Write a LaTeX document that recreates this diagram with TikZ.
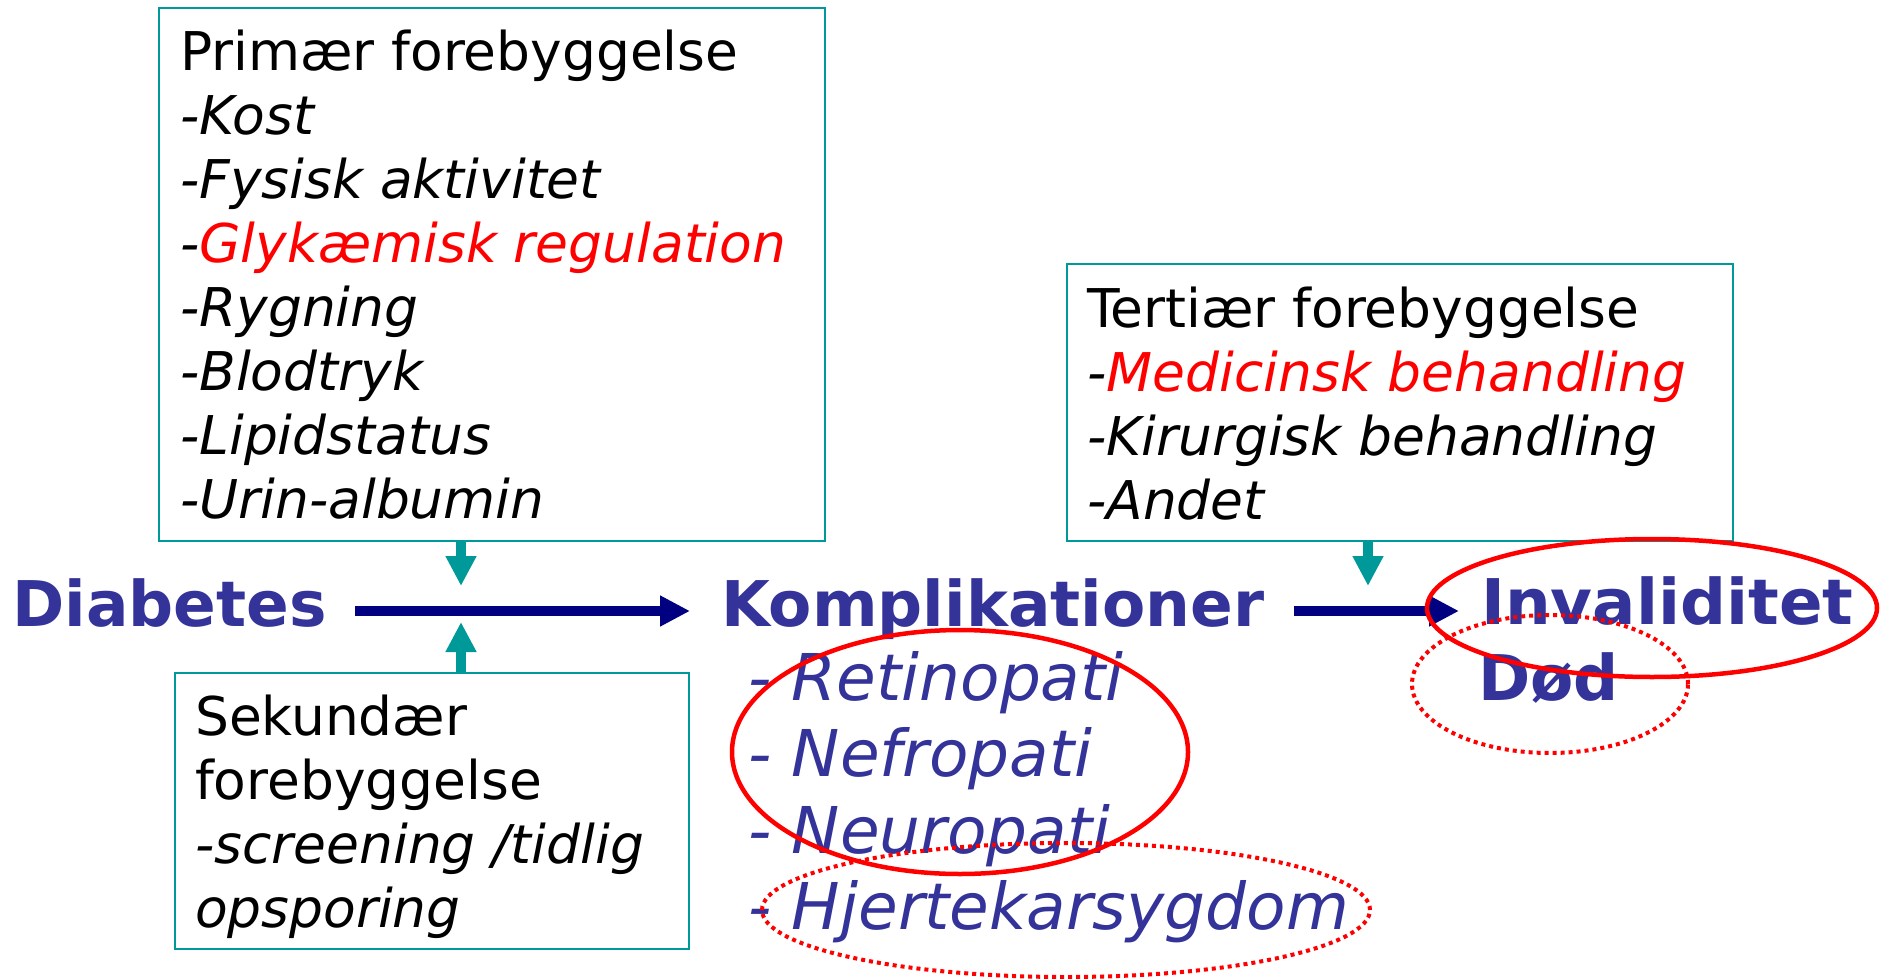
\documentclass[tikz,border=0pt]{standalone}
\usepackage{fontspec}
\setmainfont{DejaVu Sans}
\usetikzlibrary{arrows.meta}
\definecolor{tealc}{RGB}{0,153,153}
\definecolor{bluec}{RGB}{51,51,153}
\definecolor{navyc}{RGB}{0,0,128}
\definecolor{redc}{RGB}{255,0,0}
\tikzset{
  boxframe/.style={draw=tealc, line width=2pt, inner sep=0pt, anchor=north west, fill=none},
  boxtext/.style={anchor=north west, inner sep=0pt, align=left, text=black, font=\fontsize{53.4}{64}\selectfont},
  biglabel/.style={anchor=base west, inner sep=0pt, text=bluec, font=\fontsize{63}{75}\selectfont\bfseries},
  listtext/.style={anchor=north west, inner sep=0pt, align=left, text=bluec, font=\fontsize{64.5}{76.5}\selectfont\itshape},
  mainarrow/.style={draw=navyc, line width=10pt, -{Triangle[length=30pt,width=29pt]}},
  tealarrow/.style={draw=tealc, line width=10pt, -{Triangle[length=30pt,width=29pt]}},
  solidring/.style={draw=redc, line width=4.5pt},
  dotring/.style={draw=redc, line width=4pt, dash pattern=on 4pt off 4pt}
}
\begin{document}
\begin{tikzpicture}[x=1pt,y=-1pt]
\path[use as bounding box, fill=white] (0,0) rectangle (1881,979);

% boxes
\node[boxframe, minimum width=666pt, minimum height=533pt] (prim) at (158,7) {};
\node[boxframe, minimum width=666pt, minimum height=277pt] (tert) at (1066,263) {};
\node[boxframe, minimum width=514pt, minimum height=276pt] (sek) at (174,672) {};

\node[boxtext] (primtxt) at (180,25.2) {\strut Primær forebyggelse\\
\textit{-Kost}\\
\textit{-Fysisk aktivitet}\\
\textit{-\textcolor{redc}{Glykæmisk regulation}}\\
\textit{-Rygning}\\
\textit{-Blodtryk}\\
\textit{-Lipidstatus}\\
\textit{-Urin-albumin}};

\node[boxtext] (terttxt) at (1087,282.2) {\strut Tertiær forebyggelse\\
\textit{-\textcolor{redc}{Medicinsk behandling}}\\
\textit{-Kirurgisk behandling}\\
\textit{-Andet}};

\node[boxtext] (sektxt) at (195,690.2) {\strut Sekundær\\
forebyggelse\\
\textit{-screening /tidlig}\\
\textit{opsporing}};

% main labels
\node[biglabel] (diab) at (12,626) {Diabetes};
\node[biglabel] (komp) at (721,626) {Komplikationer};
\node[biglabel] (inv) at (1481,624) {\scalebox{1.02}[1]{Invaliditet}};
\node[biglabel] (dod) at (1478,700) {Død};

\node[listtext] (list) at (748,646.5) {\strut - Retinopati\\
- Nefropati\\
- Neuropati\\
- Hjertekarsygdom};

% main arrows
\coordinate (m1s) at (355,611);
\coordinate (m1e) at (690,611);
\coordinate (m2s) at (1294,611);
\coordinate (m2e) at (1459,611);
\draw[mainarrow] (m1s) -- (m1e);
\draw[mainarrow] (m2s) -- (m2e);

% teal arrows
\coordinate (t1) at (461,586);
\coordinate (t2) at (461,622);
\coordinate (t3) at (1368,586);
\draw[tealarrow] (prim.south -| t1) -- (t1);
\draw[tealarrow] (sek.north -| t2) -- (t2);
\draw[tealarrow] (tert.south -| t3) -- (t3);

% red rings
\draw[solidring] (1652,608) ellipse [x radius=225pt, y radius=69pt];
\draw[dotring] (1550,684) ellipse [x radius=138pt, y radius=69pt];
\draw[solidring] (960,752) ellipse [x radius=228pt, y radius=122pt];
\draw[dotring] (1066,910) ellipse [x radius=304pt, y radius=67pt];
\end{tikzpicture}
\end{document}
